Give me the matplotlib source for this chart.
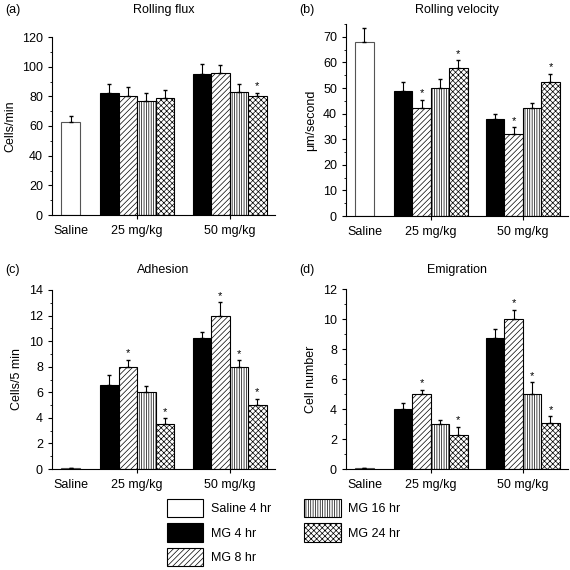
import numpy as np
import matplotlib
matplotlib.use('Agg')
import matplotlib.pyplot as plt
from matplotlib.patches import Patch

plt.rcParams['font.family'] = 'Liberation Sans'
plt.rcParams['font.size'] = 9
plt.rcParams['hatch.linewidth'] = 0.5

groups = ['Saline', '25 mg/kg', '50 mg/kg']
series = ['Saline 4 hr', 'MG 4 hr', 'MG 8 hr', 'MG 16 hr', 'MG 24 hr']

# panel (a) Rolling flux
a_saline, a_saline_err = 63, 4
a_25 = [82, 80, 77, 79]
a_25_err = [6, 6, 5.5, 5.5]
a_50 = [95, 95.5, 83, 80]
a_50_err = [7, 5.5, 5, 2.5]
a_sig25 = [0, 0, 0, 0]
a_sig50 = [0, 0, 0, 1]

# panel (b) Rolling velocity
b_saline, b_saline_err = 68, 5.5
b_25 = [49, 42, 50, 58]
b_25_err = [3.5, 3.3, 3.6, 2.8]
b_50 = [38, 32, 42, 52.5]
b_50_err = [1.8, 2.6, 2.0, 3.0]
b_sig25 = [0, 1, 0, 1]
b_sig50 = [0, 1, 0, 1]

# panel (c) Adhesion
c_saline, c_saline_err = 0.05, 0.05
c_25 = [6.6, 8.0, 6.0, 3.5]
c_25_err = [0.75, 0.55, 0.5, 0.45]
c_50 = [10.25, 12.0, 8.0, 5.0]
c_50_err = [0.5, 1.05, 0.5, 0.5]
c_sig25 = [0, 1, 0, 1]
c_sig50 = [0, 1, 1, 1]

# panel (d) Emigration
d_saline, d_saline_err = 0.05, 0.05
d_25 = [4.0, 5.0, 3.0, 2.3]
d_25_err = [0.42, 0.28, 0.25, 0.5]
d_50 = [8.75, 10.0, 5.0, 3.1]
d_50_err = [0.56, 0.6, 0.77, 0.42]
d_sig25 = [0, 1, 0, 1]
d_sig50 = [0, 1, 1, 1]

colors = ['white', 'black', 'white', 'white', 'white']
hatches = [None, None, '//////', '|||||||', 'xxxxxx']

fig = plt.figure(figsize=(5.7, 5.7), dpi=100)

# box in px: [left, right, bottom, top]
panels = [
    ('(a)', 'Rolling flux', 'Cells/min', a_saline, a_saline_err, a_25, a_25_err, a_50, a_50_err,
     a_sig25, a_sig50, 120, 20, 10, [52, 275, 215, 37]),
    ('(b)', 'Rolling velocity', 'μm/second', b_saline, b_saline_err, b_25, b_25_err, b_50, b_50_err,
     b_sig25, b_sig50, 75, 10, 5, [346, 568, 216, 24]),
    ('(c)', 'Adhesion', 'Cells/5 min', c_saline, c_saline_err, c_25, c_25_err, c_50, c_50_err,
     c_sig25, c_sig50, 14, 2, 1, [52, 275, 469, 290]),
    ('(d)', 'Emigration', 'Cell number', d_saline, d_saline_err, d_25, d_25_err, d_50, d_50_err,
     d_sig25, d_sig50, 12, 2, 1, [346, 568, 469, 289]),
]
title_y = [10, 10, 270, 270]

for k, (tag, title, ylab, sal, sal_e, v25, e25, v50, e50, s25, s50, ymax, major, minor, box) in enumerate(panels):
    l, r, b, t = box
    ax = fig.add_axes([l / 570, 1 - b / 570, (r - l) / 570, (b - t) / 570])
    x25 = 2.1 + np.arange(4)
    x50 = 7.1 + np.arange(4)
    ax.bar([0], [sal], width=1, color='white', edgecolor='#555555', lw=0.8)
    ax.errorbar([0], [sal], yerr=[[0], [sal_e]], fmt='none', ecolor='black', elinewidth=0.8, capsize=1.5)
    for i in range(4):
        for xs, vals, errs, sig in [(x25, v25, e25, s25), (x50, v50, e50, s50)]:
            ax.bar(xs[i], vals[i], width=1, color=colors[i + 1], edgecolor='black',
                   hatch=hatches[i + 1], lw=0.8)
            ax.errorbar(xs[i], vals[i], yerr=[[0], [errs[i]]], fmt='none', ecolor='black',
                        elinewidth=0.8, capsize=1.5)
            if sig[i]:
                ax.text(xs[i], vals[i] + errs[i] + ymax * 0.008, '*', ha='center', va='bottom', fontsize=8)
    ax.set_xlim(-1, 11.05)
    ax.set_ylim(0, ymax)
    yt = np.arange(0, ymax + 0.01, major)
    if k == 1:
        yt = np.arange(0, 70.01, major)
    ax.set_yticks(yt)
    ax.set_yticks(np.arange(0, ymax + 0.01, minor), minor=True)
    ax.set_xticks([0, 3.6, 8.6])
    ax.set_xticklabels(groups)
    ax.xaxis.get_major_ticks()[0].tick1line.set_visible(False)
    ax.tick_params(axis='both', direction='out', length=3, width=0.8, labelsize=9)
    ax.tick_params(axis='y', which='minor', length=1.5, width=0.6)
    ax.tick_params(axis='x', pad=4)
    for sp in ['top', 'right']:
        ax.spines[sp].set_visible(False)
    ax.set_ylabel(ylab, fontsize=9)
    fig.text((l + r) / 2 / 570, 1 - title_y[k] / 570, title, fontsize=9, ha='center', va='center')
    fig.text(l / 570 - 0.082, 1 - title_y[k] / 570, tag, fontsize=9, ha='left', va='center')

handles = [Patch(facecolor=colors[i], edgecolor='black', hatch=hatches[i], lw=0.8) for i in range(5)]
fig.legend(handles, series, ncol=2, loc='lower left', bbox_to_anchor=(159 / 570, -0.006),
           frameon=False, fontsize=9, handlelength=2.95, handleheight=1.85, borderpad=0.1,
           columnspacing=2.6, labelspacing=0.5, handletextpad=0.6)

fig.savefig('out.png', dpi=100)
